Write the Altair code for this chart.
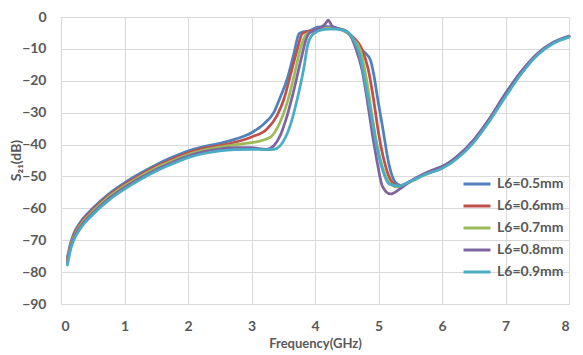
import altair as alt
import pandas as pd

labels = ["L6=0.5mm", "L6=0.6mm", "L6=0.7mm", "L6=0.8mm", "L6=0.9mm"]
colors = ["#4F81BD", "#C0504D", "#9BBB59", "#8064A2", "#4BACC6"]

f05 = [0.1, 0.15, 0.2, 0.3, 0.5, 0.75, 1.0, 1.25, 1.5, 1.75, 2.0, 2.25, 2.5, 2.75, 3.0, 3.19, 3.35, 3.45, 3.56, 3.67,
       3.75, 3.82, 3.9, 4.04, 4.2, 4.42, 4.58, 4.68, 4.79, 4.87, 4.93, 4.98, 5.06, 5.17, 5.27, 5.35, 5.5, 5.75,
       6.0, 6.25, 6.5, 6.75, 7.0, 7.25, 7.5, 7.75, 8.0]
s05 = [-75.5, -71, -68, -64.5, -60, -55.5, -52, -49, -46.3, -44, -42, -40.6, -39.6, -38.3, -36.3, -33.6, -30, -25.3,
       -19.6, -11.3, -5.2, -4.6, -4.4, -3.2, -3.0, -4, -6, -9.2, -11.3, -13.3, -18.5, -24.8, -34, -46.7, -52, -52.8,
       -51.5, -49, -47, -43.5, -38.5, -31.8, -24, -17, -11.5, -8, -6]

f06 = [0.1, 0.15, 0.2, 0.3, 0.5, 0.75, 1.0, 1.25, 1.5, 1.75, 2.0, 2.25, 2.5, 2.75, 3.0, 3.24, 3.4, 3.51, 3.61, 3.72,
       3.8, 3.88, 4.0, 4.1, 4.25, 4.42, 4.58, 4.74, 4.84, 4.93, 5.0, 5.11, 5.22, 5.32, 5.5, 5.75, 6.0, 6.25, 6.5,
       6.75, 7.0, 7.25, 7.5, 7.75, 8.0]
s06 = [-76, -71.5, -68.5, -65, -60.5, -56, -52.5, -49.5, -46.8, -44.6, -42.6, -41.2, -40.3, -39.2, -37.6, -35.2, -31,
       -25.8, -18.5, -10.2, -5.2, -4.6, -4.1, -3.6, -3.4, -4, -6, -10.2, -16.5, -26.9, -36.3, -46.7, -52, -53,
       -51.6, -49.1, -47.1, -43.7, -38.7, -32, -24.3, -17.3, -11.7, -8.1, -6.1]

f07 = [0.1, 0.15, 0.2, 0.3, 0.5, 0.75, 1.0, 1.25, 1.5, 1.75, 2.0, 2.25, 2.5, 2.75, 3.0, 3.29, 3.45, 3.56, 3.67, 3.78,
       3.86, 3.95, 4.1, 4.25, 4.42, 4.58, 4.71, 4.82, 4.9, 4.98, 5.09, 5.19, 5.3, 5.5, 5.75, 6.0, 6.25, 6.5, 6.75,
       7.0, 7.25, 7.5, 7.75, 8.0]
s07 = [-76.5, -72, -69, -65.5, -61, -56.5, -53, -50, -47.3, -45.1, -43.1, -41.7, -40.8, -40, -39.4, -37.8, -33, -27,
       -18.5, -9.2, -5.5, -4.6, -3.8, -3.5, -4, -6.5, -10.2, -20.6, -31, -40.4, -48.7, -52.4, -53.3, -51.7, -49.3,
       -47.3, -44, -39, -32.3, -24.6, -17.6, -11.9, -8.2, -6.2]

f08 = [0.1, 0.15, 0.2, 0.3, 0.5, 0.75, 1.0, 1.25, 1.5, 1.75, 2.0, 2.25, 2.5, 2.75, 3.0, 3.24, 3.35, 3.45, 3.56, 3.67,
       3.78, 3.86, 3.91, 4.0, 4.1, 4.16, 4.21, 4.26, 4.32, 4.45, 4.55, 4.63, 4.74, 4.82, 4.9, 4.98, 5.06, 5.19,
       5.33, 5.5, 5.7, 5.9, 6.0, 6.25, 6.5, 6.75, 7.0, 7.25, 7.5, 7.75, 8.0]
s08 = [-77, -72.5, -69.5, -66, -61.5, -57, -53.5, -50.5, -47.8, -45.6, -43.6, -42.2, -41.4, -41, -41, -41.5, -40.4,
       -37.3, -31, -22.7, -13.3, -7, -5, -4.2, -3.2, -2.2, -1, -2.6, -3.4, -4, -5.5, -9.2, -16.5, -25.8, -36.3,
       -45.6, -53, -55.5, -54, -51.5, -49.3, -47.6, -46.9, -43.6, -38.6, -31.8, -24, -17.2, -11.6, -8, -6.1]

f09 = [0.1, 0.15, 0.2, 0.3, 0.5, 0.75, 1.0, 1.25, 1.5, 1.75, 2.0, 2.25, 2.5, 2.75, 3.0, 3.2, 3.35, 3.45, 3.61, 3.72,
       3.83, 3.88, 3.94, 4.04, 4.2, 4.35, 4.5, 4.63, 4.71, 4.79, 4.87, 4.95, 5.06, 5.17, 5.33, 5.5, 5.75, 6.0,
       6.25, 6.5, 6.75, 7.0, 7.25, 7.5, 7.75, 8.0]
s09 = [-77.8, -73, -70, -66.5, -62, -57.5, -54, -51, -48.3, -46.1, -44.1, -42.8, -42, -41.6, -41.5, -41.6, -41.5,
       -40.4, -34, -25.8, -15.4, -9.2, -6, -4.5, -3.8, -3.8, -4.6, -8, -12.3, -20.6, -29, -38.3, -47.7, -52.4, -53,
       -51.5, -49.3, -47.5, -44.2, -39.3, -32.6, -25, -17.8, -12, -8.3, -6.3]

freqs = [f05, f06, f07, f08, f09]
vals = [s05, s06, s07, s08, s09]

rows = []
for lab, fs, vs in zip(labels, freqs, vals):
    for i, (f, v) in enumerate(zip(fs, vs)):
        rows.append({"series": lab, "freq": f, "s21": v, "idx": i})
df = pd.DataFrame(rows)

FONT = "Lato"
GREY = "#595959"
GRID = "#D9D9D9"

chart = alt.Chart(df).mark_line(
    strokeWidth=2.75, strokeCap="round", strokeJoin="round", interpolate="monotone"
).encode(
    x=alt.X("freq:Q", scale=alt.Scale(domain=[0, 8], nice=False, zero=False),
            axis=alt.Axis(values=list(range(0, 9)), format="d", title="Frequency(GHz)",
                          grid=True, gridColor=GRID, domainColor=GRID, ticks=False, tickSize=0,
                          labelFont=FONT, labelFontSize=14, labelFontWeight="bold", labelColor=GREY,
                          labelPadding=15, titleFont=FONT, titleFontSize=13, titleFontWeight="bold",
                          titleColor=GREY, titleY=39, titleBaseline="middle")),
    y=alt.Y("s21:Q", scale=alt.Scale(domain=[-90, 0], nice=False, zero=False),
            axis=alt.Axis(values=list(range(-90, 1, 10)), title="S₂₁(dB)",
                          grid=True, gridColor=GRID, domainColor=GRID, ticks=False, tickSize=0,
                          labelFont=FONT, labelFontSize=14, labelFontWeight="bold", labelColor=GREY,
                          labelPadding=15, titleFont=FONT, titleFontSize=14, titleFontWeight="bold",
                          titleColor=GREY, titleX=-45, titleY=143, titleAngle=270,
                          titleAlign="center", titleBaseline="middle")),
    color=alt.Color("series:N", scale=alt.Scale(domain=labels, range=colors),
                    legend=alt.Legend(title=None, orient="none", legendX=401, legendY=152,
                                      symbolType="stroke", symbolSize=729, symbolStrokeWidth=3,
                                      rowPadding=0, padding=0, labelOffset=5,
                                      labelFont=FONT, labelFontSize=14, labelFontWeight="bold",
                                      labelColor=GREY)),
    order="idx:Q",
    detail="series:N",
).properties(
    width=508, height=287,
    autosize=alt.AutoSizeParams(type="none"),
    padding={"left": 53, "top": 9, "right": 6, "bottom": 47},
).configure_view(stroke=None).configure(background="white")

chart.save("out.html", embed_options={"renderer": "svg", "actions": False})
